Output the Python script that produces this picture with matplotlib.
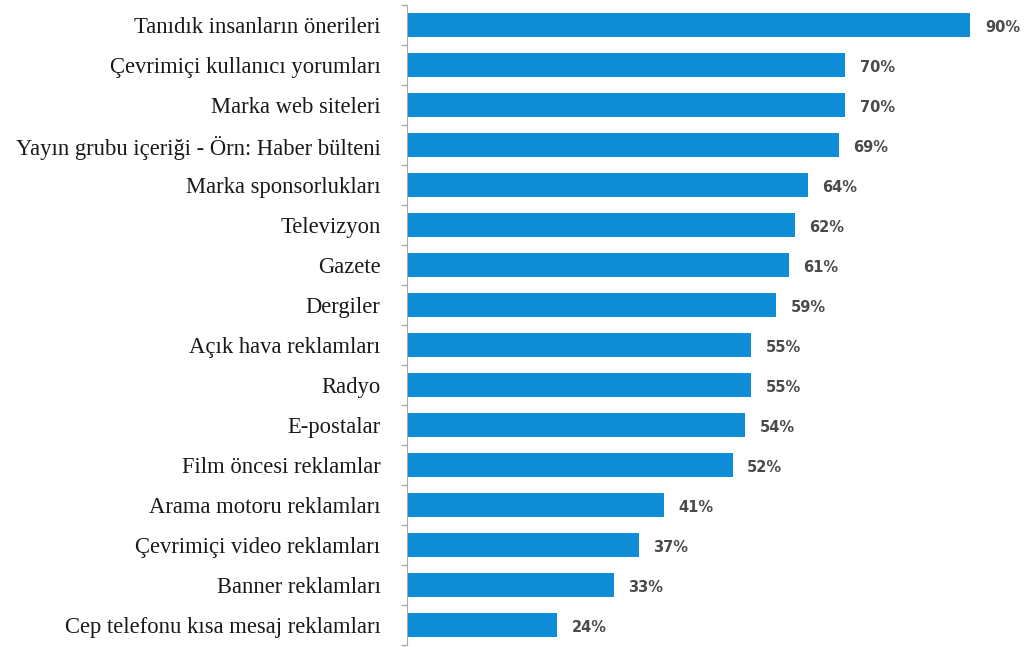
import matplotlib.pyplot as plt

categories = [
    "Tanıdık insanların önerileri",
    "Çevrimiçi kullanıcı yorumları",
    "Marka web siteleri",
    "Yayın grubu içeriği - Örn: Haber bülteni",
    "Marka sponsorlukları",
    "Televizyon",
    "Gazete",
    "Dergiler",
    "Açık hava reklamları",
    "Radyo",
    "E-postalar",
    "Film öncesi reklamlar",
    "Arama motoru reklamları",
    "Çevrimiçi video reklamları",
    "Banner reklamları",
    "Cep telefonu kısa mesaj reklamları",
]
values = [90, 70, 70, 69, 64, 62, 61, 59, 55, 55, 54, 52, 41, 37, 33, 24]

fig = plt.figure(figsize=(10.32, 6.47), dpi=100)
ax = fig.add_axes([407 / 1032, 2 / 647, 626 / 1032, 640 / 647])

ypos = list(range(len(categories)))
ax.barh(ypos, values, height=0.6, color="#0e8cd6")
for y, v in zip(ypos, values):
    ax.text(v + 2.3, y + 0.05, f"{v}%", va="center", ha="left", fontsize=10.5,
            fontweight="bold", color="#4a4a4a", family="DejaVu Sans")

ax.set_xlim(0, 100)
ax.set_ylim(len(categories) - 0.5, -0.5)
ax.set_yticks(ypos)
ax.set_yticklabels(categories, family="Liberation Serif", fontsize=16.3, color="#1a1a1a")
ax.tick_params(axis="y", length=0, pad=19)
# small boundary ticks between categories
ax.set_yticks([i - 0.5 for i in range(len(categories) + 1)], minor=True)
ax.tick_params(axis="y", which="minor", length=4, color="#aaaaaa", width=1)
ax.set_xticks([])
for side in ["top", "right", "bottom"]:
    ax.spines[side].set_visible(False)
ax.spines["left"].set_color("#aaaaaa")

fig.savefig("out.png", dpi=100)
